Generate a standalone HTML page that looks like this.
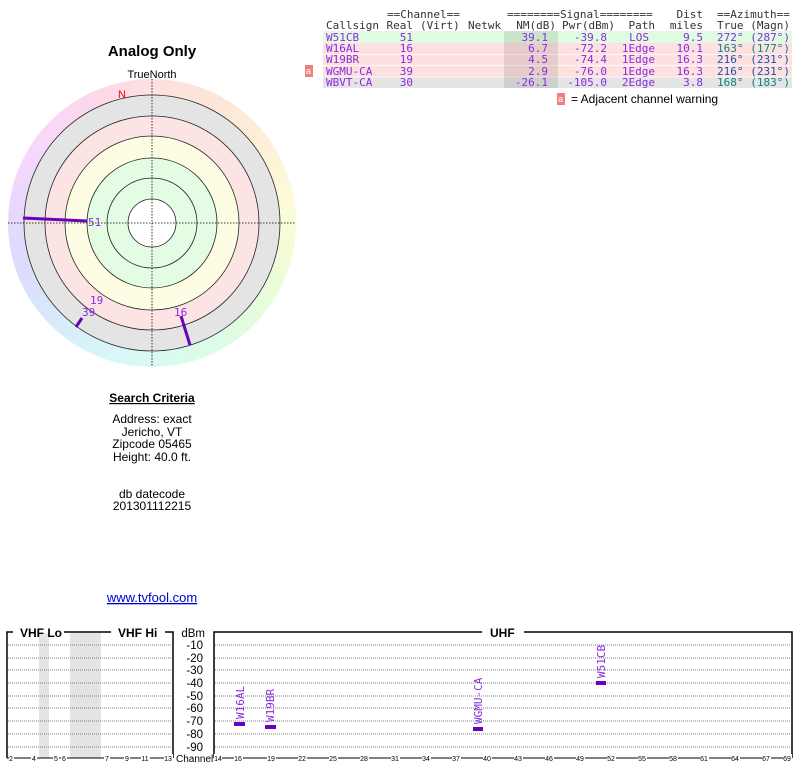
<!DOCTYPE html>
<html><head><meta charset="utf-8"><style>
body{margin:0;background:#fff;width:800px;height:768px;overflow:hidden}
svg{display:block}
.m{font-family:"DejaVu Sans Mono","Liberation Mono",monospace;font-size:11px}
.s{font-family:"Liberation Sans",sans-serif}
</style></head><body>
<svg width="800" height="768" xmlns="http://www.w3.org/2000/svg">
<!-- polar chart -->
<foreignObject x="8" y="79" width="288" height="288">
<div xmlns="http://www.w3.org/1999/xhtml" style="width:288px;height:288px;border-radius:50%;background:conic-gradient(#fde0e0,#fde6d8,#fdf0d8,#fcfcd8,#eefcd8,#e0fce0,#d8fcec,#d8f8f8,#d8ecfc,#dcdcfc,#e8d8fc,#f8d8fc,#fcd8ec,#fde0e0)"></div>
</foreignObject>
<circle cx="152" cy="223" r="128" fill="#e4e4e4"/>
<circle cx="152" cy="223" r="107" fill="#fde4e4"/>
<circle cx="152" cy="223" r="87" fill="#fdfde4"/>
<circle cx="152" cy="223" r="65" fill="#e4fce4"/>
<circle cx="152" cy="223" r="24" fill="#fff"/>
<g fill="none" stroke="#222" stroke-width="0.8">
<circle cx="152" cy="223" r="128"/><circle cx="152" cy="223" r="107"/><circle cx="152" cy="223" r="87"/><circle cx="152" cy="223" r="65"/><circle cx="152" cy="223" r="45"/><circle cx="152" cy="223" r="24"/>
</g>
<g stroke="#000" stroke-width="0.8" stroke-dasharray="1.5,1.5">
<line x1="152" y1="79" x2="152" y2="367"/><line x1="8" y1="223" x2="296" y2="223"/>
</g>
<g stroke="#6a00c0" stroke-width="3">
<line x1="23" y1="218" x2="87" y2="221"/>
<line x1="181" y1="316" x2="190" y2="345"/>
<line x1="82" y1="318" x2="76" y2="327"/>
</g>
<g class="m" fill="#8a2be2" font-size="11">
<text x="88" y="226">51</text><text x="90" y="304">19</text><text x="82" y="316">39</text><text x="174" y="316">16</text>
</g>
<text x="118" y="98" fill="#f00" class="s" font-size="11">N</text>
<text x="152" y="56" class="s" font-size="15" font-weight="bold" text-anchor="middle">Analog Only</text>
<text x="152" y="78" class="s" font-size="11" text-anchor="middle">TrueNorth</text>
<g class="s" font-size="12" text-anchor="middle">
<text x="152" y="402" font-weight="bold" text-decoration="underline">Search Criteria</text>
<text x="152" y="423">Address: exact</text>
<text x="152" y="436">Jericho, VT</text>
<text x="152" y="448">Zipcode 05465</text>
<text x="152" y="461">Height: 40.0 ft.</text>
<text x="152" y="498">db datecode</text>
<text x="152" y="510">201301112215</text>
<text x="152" y="602" fill="#00c" text-decoration="underline" font-size="13">www.tvfool.com</text>
</g>
<!-- table -->
<rect x="323" y="31" width="469" height="12" fill="#e0fce0"/>
<rect x="323" y="43" width="469" height="34" fill="#fde0e0"/>
<rect x="323" y="77" width="469" height="11" fill="#e4e4e4"/>
<g stroke="#fff" stroke-width="0.7"><line x1="323" y1="54.5" x2="792" y2="54.5"/><line x1="323" y1="65.5" x2="792" y2="65.5"/><line x1="323" y1="77" x2="792" y2="77"/></g>
<rect x="504" y="31" width="54" height="57" fill="#000" opacity="0.09"/>
<g class="m" fill="#333">
<text x="387" y="18">==Channel==</text>
<text x="507" y="18">========Signal========</text>
<text x="703" y="18" text-anchor="end">Dist</text>
<text x="717" y="18">==Azimuth==</text>
<text x="326" y="29">Callsign</text><text x="413" y="29" text-anchor="end">Real</text><text x="420" y="29">(Virt)</text><text x="468" y="29">Netwk</text>
<text x="556" y="29" text-anchor="end">NM(dB)</text><text x="615" y="29" text-anchor="end">Pwr(dBm)</text><text x="655" y="29" text-anchor="end">Path</text><text x="703" y="29" text-anchor="end">miles</text><text x="717" y="29">True</text><text x="790" y="29" text-anchor="end">(Magn)</text>
</g>
<g class="m" fill="#8a2be2">
<text x="326" y="41">W51CB</text><text x="413" y="41" text-anchor="end">51</text><text x="548" y="41" text-anchor="end">39.1</text><text x="607" y="41" text-anchor="end">-39.8</text><text x="649" y="41" text-anchor="end">LOS</text><text x="703" y="41" text-anchor="end">9.5</text><text x="717" y="41">272°</text><text x="790" y="41" text-anchor="end">(287°)</text>
<text x="326" y="52">W16AL</text><text x="413" y="52" text-anchor="end">16</text><text x="548" y="52" text-anchor="end">6.7</text><text x="607" y="52" text-anchor="end">-72.2</text><text x="655" y="52" text-anchor="end">1Edge</text><text x="703" y="52" text-anchor="end">10.1</text>
<text x="326" y="63">W19BR</text><text x="413" y="63" text-anchor="end">19</text><text x="548" y="63" text-anchor="end">4.5</text><text x="607" y="63" text-anchor="end">-74.4</text><text x="655" y="63" text-anchor="end">1Edge</text><text x="703" y="63" text-anchor="end">16.3</text>
<text x="326" y="75">WGMU-CA</text><text x="413" y="75" text-anchor="end">39</text><text x="548" y="75" text-anchor="end">2.9</text><text x="607" y="75" text-anchor="end">-76.0</text><text x="655" y="75" text-anchor="end">1Edge</text><text x="703" y="75" text-anchor="end">16.3</text>
<text x="326" y="86">WBVT-CA</text><text x="413" y="86" text-anchor="end">30</text><text x="548" y="86" text-anchor="end">-26.1</text><text x="607" y="86" text-anchor="end">-105.0</text><text x="655" y="86" text-anchor="end">2Edge</text><text x="703" y="86" text-anchor="end">3.8</text>
</g>
<g class="m" fill="#108080"><text x="717" y="52">163°</text><text x="790" y="52" text-anchor="end">(177°)</text><text x="717" y="86">168°</text><text x="790" y="86" text-anchor="end">(183°)</text></g>
<g class="m" fill="#2050b0"><text x="717" y="63">216°</text><text x="790" y="63" text-anchor="end">(231°)</text><text x="717" y="75">216°</text><text x="790" y="75" text-anchor="end">(231°)</text></g>
<rect x="305" y="65" width="8" height="12" fill="#f08080"/><text x="306" y="74" fill="#fff" class="s" font-size="9">a</text>
<rect x="557" y="93" width="8" height="12" fill="#f08080"/><text x="558" y="102" fill="#fff" class="s" font-size="9">a</text>
<text x="571" y="103" class="s" font-size="12">= Adjacent channel warning</text>
<!-- bottom chart -->
<rect x="39" y="633" width="10" height="125" fill="#e4e4e4"/>
<rect x="70" y="633" width="31" height="125" fill="#e4e4e4"/>
<g stroke="#555" stroke-width="0.8" stroke-dasharray="1,1">
<line x1="8" y1="645" x2="172" y2="645"/><line x1="8" y1="658" x2="172" y2="658"/><line x1="8" y1="670" x2="172" y2="670"/><line x1="8" y1="683" x2="172" y2="683"/><line x1="8" y1="696" x2="172" y2="696"/><line x1="8" y1="708" x2="172" y2="708"/><line x1="8" y1="721" x2="172" y2="721"/><line x1="8" y1="734" x2="172" y2="734"/><line x1="8" y1="747" x2="172" y2="747"/>
<line x1="215" y1="645" x2="791" y2="645"/><line x1="215" y1="658" x2="791" y2="658"/><line x1="215" y1="670" x2="791" y2="670"/><line x1="215" y1="683" x2="791" y2="683"/><line x1="215" y1="696" x2="791" y2="696"/><line x1="215" y1="708" x2="791" y2="708"/><line x1="215" y1="721" x2="791" y2="721"/><line x1="215" y1="734" x2="791" y2="734"/><line x1="215" y1="747" x2="791" y2="747"/>
</g>
<g stroke="#000" stroke-width="1.5" fill="none">
<polyline points="7,758 7,632 13,632"/><line x1="64" y1="632" x2="111" y2="632"/><polyline points="165,632 173,632 173,758"/>
<polyline points="214,758 214,632 482,632"/><polyline points="524,632 792,632 792,758"/>
<line x1="7" y1="758" x2="173" y2="758" stroke-width="1"/><line x1="214" y1="758" x2="792" y2="758" stroke-width="1"/>
</g>
<g class="s" font-weight="bold" font-size="12"><text x="20" y="637">VHF Lo</text><text x="118" y="637">VHF Hi</text><text x="490" y="637">UHF</text></g>
<g class="s" font-size="11.5" text-anchor="end">
<text x="205" y="637">dBm</text><text x="203" y="649">-10</text><text x="203" y="662">-20</text><text x="203" y="674">-30</text><text x="203" y="687">-40</text><text x="203" y="700">-50</text><text x="203" y="712">-60</text><text x="203" y="725">-70</text><text x="203" y="738">-80</text><text x="203" y="751">-90</text>
</g>
<rect x="176" y="754" width="36" height="10" fill="#fff"/>
<text x="176" y="762" class="s" font-size="10">Channel</text>
<g class="s" font-size="7" text-anchor="middle">
<g fill="#000"><rect x="9" y="754" width="5" height="8" fill="#fff"/><text x="11" y="761">2</text>
<rect x="31" y="754" width="6" height="8" fill="#fff"/><text x="34" y="761">4</text>
<rect x="53" y="754" width="6" height="8" fill="#fff"/><text x="56" y="761">5</text>
<rect x="61" y="754" width="6" height="8" fill="#fff"/><text x="64" y="761">6</text>
<rect x="104" y="754" width="6" height="8" fill="#fff"/><text x="107" y="761">7</text>
<rect x="124" y="754" width="6" height="8" fill="#fff"/><text x="127" y="761">9</text>
<rect x="141" y="754" width="9" height="8" fill="#fff"/><text x="145" y="761">11</text>
<rect x="164" y="754" width="9" height="8" fill="#fff"/><text x="168" y="761">13</text></g>
</g>
<g class="s" font-size="7" text-anchor="middle" id="u">
<rect x="214" y="754" width="8" height="8" fill="#fff"/><text x="218" y="761">14</text>
<rect x="234" y="754" width="9" height="8" fill="#fff"/><text x="238" y="761">16</text>
<rect x="267" y="754" width="9" height="8" fill="#fff"/><text x="271" y="761">19</text>
<rect x="298" y="754" width="9" height="8" fill="#fff"/><text x="302" y="761">22</text>
<rect x="329" y="754" width="9" height="8" fill="#fff"/><text x="333" y="761">25</text>
<rect x="360" y="754" width="9" height="8" fill="#fff"/><text x="364" y="761">28</text>
<rect x="391" y="754" width="9" height="8" fill="#fff"/><text x="395" y="761">31</text>
<rect x="422" y="754" width="9" height="8" fill="#fff"/><text x="426" y="761">34</text>
<rect x="452" y="754" width="9" height="8" fill="#fff"/><text x="456" y="761">37</text>
<rect x="483" y="754" width="9" height="8" fill="#fff"/><text x="487" y="761">40</text>
<rect x="514" y="754" width="9" height="8" fill="#fff"/><text x="518" y="761">43</text>
<rect x="545" y="754" width="9" height="8" fill="#fff"/><text x="549" y="761">46</text>
<rect x="576" y="754" width="9" height="8" fill="#fff"/><text x="580" y="761">49</text>
<rect x="607" y="754" width="9" height="8" fill="#fff"/><text x="611" y="761">52</text>
<rect x="638" y="754" width="9" height="8" fill="#fff"/><text x="642" y="761">55</text>
<rect x="669" y="754" width="9" height="8" fill="#fff"/><text x="673" y="761">58</text>
<rect x="700" y="754" width="9" height="8" fill="#fff"/><text x="704" y="761">61</text>
<rect x="731" y="754" width="9" height="8" fill="#fff"/><text x="735" y="761">64</text>
<rect x="762" y="754" width="9" height="8" fill="#fff"/><text x="766" y="761">67</text>
<rect x="783" y="754" width="9" height="8" fill="#fff"/><text x="787" y="761">69</text>
</g>
<g fill="#6a00c0">
<rect x="234" y="722" width="11" height="4"/><rect x="265" y="725" width="11" height="4"/><rect x="473" y="727" width="10" height="4"/><rect x="596" y="681" width="10" height="4"/>
</g>
<g class="m" fill="#8a2be2" font-size="10">
<text transform="translate(244,719) rotate(-90)">W16AL</text>
<text transform="translate(274,722) rotate(-90)">W19BR</text>
<text transform="translate(482,724) rotate(-90)">WGMU-CA</text>
<text transform="translate(605,678) rotate(-90)">W51CB</text>
</g>
</svg>
</body></html>
